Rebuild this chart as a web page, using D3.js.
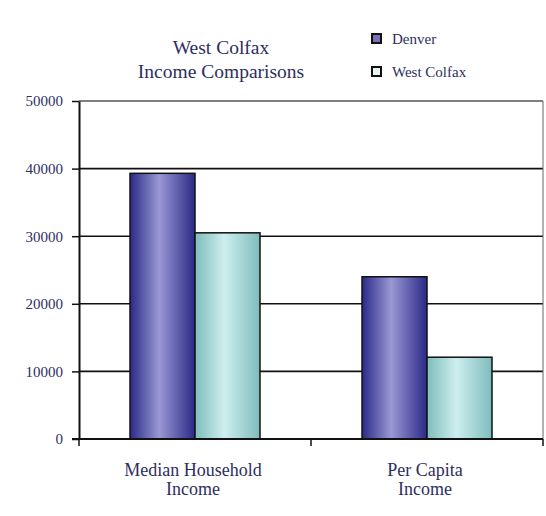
<!DOCTYPE html>
<html><head><meta charset="utf-8">
<script src="https://cdn.jsdelivr.net/npm/d3@7"></script>
<style>html,body{margin:0;padding:0;background:#fff;}svg{display:block;} text{font-family:"Liberation Serif","Times New Roman",serif;}</style>
</head><body>
<svg id="chart" width="546" height="516"></svg>
<script>
const categories = [["Median Household","Income"],["Per Capita","Income"]];
const seriesNames = ["Denver","West Colfax"];
const denver = [39300, 24000];
const westColfax = [30500, 12100];
const yTicks = [0,10000,20000,30000,40000,50000];

const svg = d3.select("#chart");
const W=546,H=516;
const m = {left:79, right:3, top:101, bottom:77};
const x0 = d3.scaleBand().domain(d3.range(categories.length)).range([m.left, W-m.right]).paddingInner(0).paddingOuter(0);
const x1 = d3.scaleBand().domain(seriesNames).range([0, x0.bandwidth()]).paddingInner(0).paddingOuter(0.785);
const y = d3.scaleLinear().domain([0,50000]).range([H-m.bottom, m.top]);

const defs = svg.append("defs");
function grad(id, edge, mid){
  const g = defs.append("linearGradient").attr("id",id).attr("x1","0%").attr("x2","100%").attr("y1","0%").attr("y2","0%");
  g.append("stop").attr("offset","0%").attr("stop-color",edge);
  g.append("stop").attr("offset","45%").attr("stop-color",mid);
  g.append("stop").attr("offset","100%").attr("stop-color",edge);
}
grad("gDen","#2a2a88","#9a98d4");
grad("gWC","#7fbcbc","#cdeeee");
const fills = {"Denver":"url(#gDen)","West Colfax":"url(#gWC)"};
const legendFills = {"Denver":"#7a70b8","West Colfax":"#e8f4f4"};

const textColor = "#2e2e60";

svg.append("g").selectAll("line").data(yTicks.filter(d=>d>0)).join("line")
  .attr("x1",m.left).attr("x2",W-m.right)
  .attr("y1",d=>y(d)).attr("y2",d=>y(d))
  .attr("stroke",d=>d===50000?"#555":"#111").attr("stroke-width",d=>d===50000?1.5:1.6);
svg.append("line").attr("x1",W-m.right).attr("x2",W-m.right).attr("y1",y(50000)).attr("y2",y(0)).attr("stroke","#666").attr("stroke-width",1);

const data = categories.map((c,i)=>({i, vals:[{k:"Denver",v:denver[i]},{k:"West Colfax",v:westColfax[i]}]}));
const grp = svg.append("g").selectAll("g").data(data).join("g").attr("transform",d=>`translate(${x0(d.i)},0)`);
grp.selectAll("rect").data(d=>d.vals).join("rect")
  .attr("x",d=>x1(d.k)).attr("width",x1.bandwidth())
  .attr("y",d=>y(d.v)).attr("height",d=>y(0)-y(d.v))
  .attr("fill",d=>fills[d.k]).attr("stroke","#111").attr("stroke-width",1.5);

const yAxis = d3.axisLeft(y).tickValues(yTicks).tickSize(7).tickSizeOuter(0).tickFormat(d3.format("d"));
const ya = svg.append("g").attr("transform",`translate(${m.left},0)`).call(yAxis);
ya.attr("font-family",null);
ya.select(".domain").attr("stroke","#111").attr("stroke-width",2);
ya.selectAll(".tick line").attr("stroke","#111").attr("stroke-width",1.5);
ya.selectAll(".tick text").attr("fill",textColor).attr("font-size",15).attr("dx",-6);

const xa = svg.append("g").attr("transform",`translate(0,${y(0)})`);
xa.append("line").attr("x1",m.left-7).attr("x2",W-m.right).attr("stroke","#111").attr("stroke-width",2);
xa.selectAll("line.t").data(d3.range(categories.length+1)).join("line").attr("class","t")
  .attr("x1",i=>m.left + i*x0.bandwidth()).attr("x2",i=>m.left + i*x0.bandwidth())
  .attr("y1",0).attr("y2",7).attr("stroke","#111").attr("stroke-width",1.5);

const cl = svg.append("g").selectAll("text").data(categories.map((c,i)=>({c,i}))).join("text")
  .attr("x",d=>x0(d.i)+x0.bandwidth()/2 - 2).attr("y",476)
  .attr("text-anchor","middle").attr("fill",textColor).attr("font-size",18);
cl.selectAll("tspan").data(d=>d.c.map(s=>({s,x:x0(d.i)+x0.bandwidth()/2 - 2}))).join("tspan")
  .attr("x",d=>d.x).attr("dy",(d,j)=>j===0?0:19).text(d=>d.s);

const title = svg.append("text").attr("x",221).attr("y",54).attr("text-anchor","middle")
  .attr("fill",textColor).attr("font-size",19.5);
title.append("tspan").attr("x",221).attr("dy",0).text("West Colfax");
title.append("tspan").attr("x",221).attr("dy",24).text("Income Comparisons");

const lg = svg.append("g").selectAll("g").data(seriesNames).join("g")
  .attr("transform",(d,i)=>`translate(372,${34+i*33})`);
lg.append("rect").attr("width",9).attr("height",9).attr("fill",d=>legendFills[d]).attr("stroke","#111").attr("stroke-width",2);
lg.append("text").attr("x",20).attr("y",9.5).attr("fill",textColor).attr("font-size",15).text(d=>d);
</script>
</body></html>
